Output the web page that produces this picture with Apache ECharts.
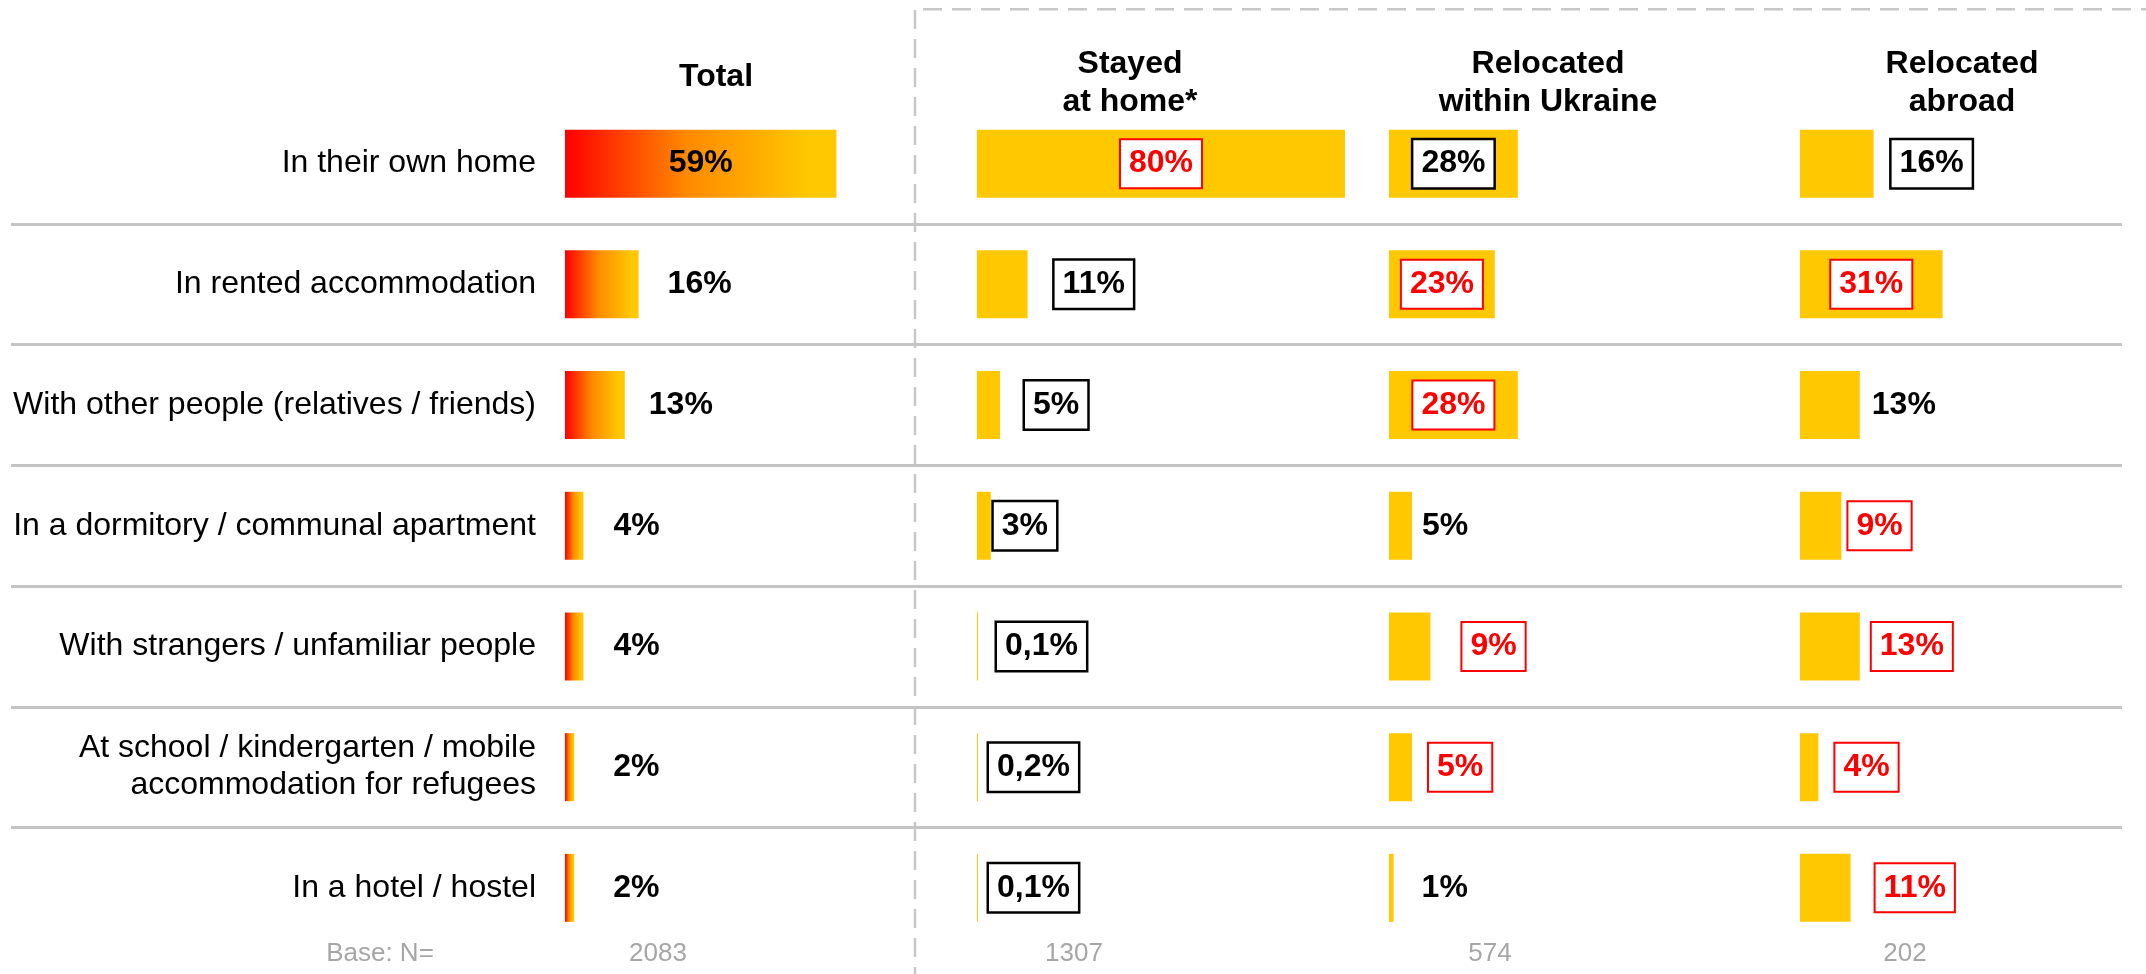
<!DOCTYPE html>
<html>
<head>
<meta charset="utf-8">
<title>Where do people live</title>
<script src="https://cdn.jsdelivr.net/npm/echarts@6/dist/echarts.min.js"></script>
<style>
    html, body { margin: 0; padding: 0; background: #fff; }
    #chart { width: 2146px; height: 974px; }
</style>
</head>
<body>
<div id="chart"></div>
<script>
// data
const categories = [
    'In their own home',
    'In rented accommodation',
    'With other people (relatives / friends)',
    'In a dormitory / communal apartment',
    'With strangers / unfamiliar people',
    'At school / kindergarten / mobile\naccommodation for refugees',
    'In a hotel / hostel'
];
const columnTitles = ['Total', 'Stayed\nat home*', 'Relocated\nwithin Ukraine', 'Relocated\nabroad'];
const baseN = [2083, 1307, 574, 202];

const total = [59, 16, 13, 4, 4, 2, 2];
const stayedHome = [80, 11, 5, 3, 0.1, 0.2, 0.1];
const withinUkraine = [28, 23, 28, 5, 9, 5, 1];
const abroad = [16, 31, 13, 9, 13, 4, 11];

// significance vs total: 'hi' = red box, 'lo' = black box, '' = plain
const totalMarks = ['', '', '', '', '', '', ''];
const stayedMarks = ['hi', 'lo', 'lo', 'lo', 'lo', 'lo', 'lo'];
const ukraineMarks = ['lo', 'hi', 'hi', '', 'hi', 'hi', ''];
const abroadMarks = ['lo', 'hi', '', 'hi', 'hi', 'hi', 'hi'];

// layout
const FONT = 'Liberation Sans, Arial, sans-serif';
const colLeft = [565, 977, 1389, 1800];
const pxPerPct = 4.6;
const colMax = [100, 100, 100, 75];   // last column runs into the page edge
const gridTop = 103.3;
const rowH = 120.7;
const headerX = [716, 1130, 1548, 1962];
const baseX = [658, 1074, 1490, 1905];
// gap between bar end and outside label, per column / row
const labelGap = [
    [0, 29, 24, 30, 30, 39, 39],
    [0, 27, 25, 3, 19, 11, 11],
    [0, 0, 0, 10, 32, 17, 28],
    [18, 0, 12, 7, 12, 17, 25]
];

const chart = echarts.init(document.getElementById('chart'));

function fmtPct(v) {
    return String(v).replace('.', ',') + '%';
}

function buildItems(values, marks, gaps) {
    return values.map((v, i) => {
        const inside = v >= 20;
        const label = {
            position: inside ? 'inside' : 'right',
            distance: gaps[i]
        };
        if (marks[i] === 'hi') {
            Object.assign(label, {
                color: '#ff0000',
                backgroundColor: '#ffffff',
                borderColor: '#ff0000',
                borderWidth: 2,
                padding: [7, 8, 6, 8]
            });
        } else if (marks[i] === 'lo') {
            Object.assign(label, {
                color: '#000000',
                backgroundColor: '#ffffff',
                borderColor: '#000000',
                borderWidth: 2.5,
                padding: [7, 8, 6, 8]
            });
        }
        return { value: v, label: label };
    });
}

const gradient = new echarts.graphic.LinearGradient(0, 0, 1, 0, [
    { offset: 0, color: '#ff0000' },
    { offset: 0.45, color: '#ff8a00' },
    { offset: 0.9, color: '#ffc800' },
    { offset: 1, color: '#ffc800' }
]);

const seriesData = [
    { values: total, marks: totalMarks, color: gradient },
    { values: stayedHome, marks: stayedMarks, color: '#ffc800' },
    { values: withinUkraine, marks: ukraineMarks, color: '#ffc800' },
    { values: abroad, marks: abroadMarks, color: '#ffc800' }
];

const gridH = rowH * categories.length;

const grids = colLeft.map((l, i) => ({ left: l, top: gridTop, width: pxPerPct * colMax[i], height: gridH }));
// background grid only for the row separators
grids.push({ left: 11, top: gridTop, width: 2111, height: gridH });

const xAxes = grids.map((g, i) => ({
    type: 'value', gridIndex: i, min: 0, max: i < 4 ? colMax[i] : 1, show: false
}));

const yAxes = grids.map((g, i) => ({
    type: 'category',
    gridIndex: i,
    inverse: true,
    data: categories,
    axisLine: { show: false },
    axisTick: { show: false },
    axisLabel: {
        show: i === 0,
        margin: 29,
        fontFamily: FONT,
        fontSize: 32,
        lineHeight: 37,
        color: '#000'
    },
    splitLine: {
        show: i === 4,
        interval: 0,
        showMinLine: false,
        showMaxLine: false,
        lineStyle: { color: '#c4c4c4', width: 3 }
    },
    z: i === 4 ? 0 : 2
}));

const series = seriesData.map((s, i) => ({
    type: 'bar',
    xAxisIndex: i,
    yAxisIndex: i,
    barWidth: 68,
    barMinHeight: 1,
    itemStyle: { color: s.color },
    label: {
        show: true,
        fontFamily: FONT,
        fontSize: 32,
        fontWeight: 'bold',
        lineHeight: 34,
        color: '#000',
        formatter: p => fmtPct(p.value)
    },
    emphasis: { disabled: true },
    data: buildItems(s.values, s.marks, labelGap[i]),
    animation: false
}));

const graphics = [];
columnTitles.forEach((t, i) => {
    const twoLines = t.indexOf('\n') >= 0;
    graphics.push({
        type: 'text',
        x: headerX[i],
        y: twoLines ? 83 : 77,
        style: {
            text: t,
            font: 'bold 32px ' + FONT,
            fill: '#000',
            align: 'center',
            verticalAlign: 'middle',
            textAlign: 'center',
            textVerticalAlign: 'middle',
            lineHeight: 38
        }
    });
    graphics.push({
        type: 'text',
        x: baseX[i],
        y: 954,
        style: {
            text: String(baseN[i]),
            font: '26px ' + FONT,
            fill: '#a6a6a6',
            align: 'center',
            verticalAlign: 'middle',
            textAlign: 'center',
            textVerticalAlign: 'middle'
        }
    });
});
graphics.push({
    type: 'text',
    x: 380,
    y: 954,
    style: {
        text: 'Base: N=',
        font: '26px ' + FONT,
        fill: '#a6a6a6',
        align: 'center',
        verticalAlign: 'middle',
        textAlign: 'center',
        textVerticalAlign: 'middle'
    }
});
// dashed frame around the breakdown columns
graphics.push({
    type: 'polyline',
    shape: { points: [[915, 10], [915, 974]] },
    style: { stroke: '#c8c8c8', lineWidth: 2.5, lineDash: [19, 10], fill: null }
});
graphics.push({
    type: 'polyline',
    shape: { points: [[923, 9.3], [2146, 9.3]] },
    style: { stroke: '#c8c8c8', lineWidth: 2.5, lineDash: [19, 10], fill: null }
});

chart.setOption({
    backgroundColor: '#ffffff',
    animation: false,
    grid: grids,
    xAxis: xAxes,
    yAxis: yAxes,
    series: series,
    graphic: graphics
});
</script>
</body>
</html>
